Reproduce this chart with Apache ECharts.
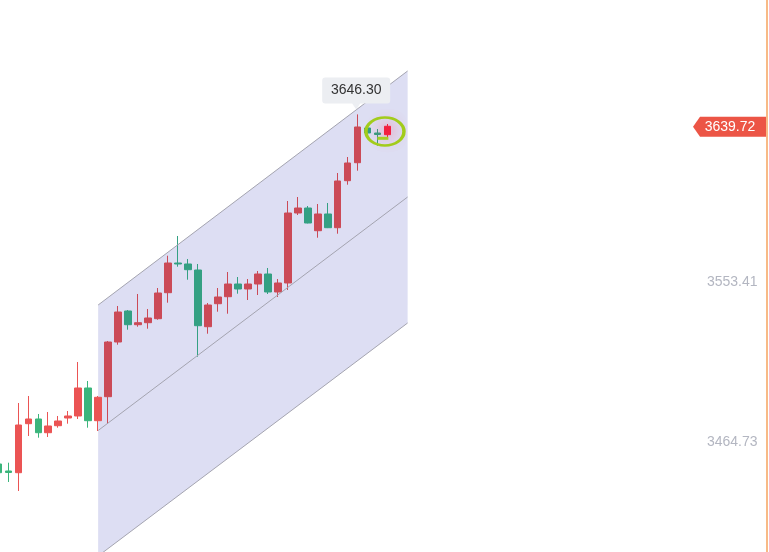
<!DOCTYPE html>
<html>
<head>
<meta charset="utf-8">
<script src="https://cdn.jsdelivr.net/npm/echarts@6/dist/echarts.min.js"></script>
<style>
html,body{margin:0;padding:0;background:#fff;}
#chart{width:769px;height:552px;}
</style>
</head>
<body>
<div id="chart"></div>
<script>
// ---- data ----
const categoryCount = 77;
const categories = Array.from({length: categoryCount}, (_, i) => String(i + 1));
const opens  = [3452.54,3448.66,3447.71,3474.87,3477.48,3469.88,3473.76,3478.03,3479.14,3494.66,
                3476.54,3489.84,3520.15,3537.34,3529.74,3530.85,3533.07,3547.48,3563.94,3563.39,
                3560.06,3528.63,3541.38,3545.26,3552.30,3549.53,3552.30,3557.84,3547.87,3552.86,
                3591.65,3594.42,3581.84,3591.10,3583.51,3609.56,3619.53,3638.76,3635.99,3635.05];
const closes = [3447.71,3447.83,3474.15,3477.48,3469.88,3473.60,3476.37,3479.14,3494.66,3476.54,
                3489.51,3520.15,3536.78,3529.74,3530.85,3533.46,3547.31,3563.94,3563.39,3560.23,
                3529.19,3540.66,3545.10,3552.30,3549.53,3552.30,3557.84,3547.87,3552.86,3591.65,
                3594.42,3586.11,3591.10,3583.51,3609.39,3619.37,3639.32,3635.99,3635.16,3639.72];
const lows   = [3446.99,3442.56,3437.57,3468.06,3467.11,3467.50,3472.66,3474.87,3477.48,3472.66,
                3470.83,3474.71,3518.66,3526.97,3528.63,3527.53,3532.50,3541.94,3561.89,3554.68,
                3512.01,3524.76,3536.95,3535.84,3546.93,3543.43,3546.20,3546.76,3545.10,3548.98,
                3590.54,3585.90,3577.96,3583.30,3580.18,3607.34,3615.10,3633.94,3628.95,3633.61];
const highs  = [3453.64,3453.26,3486.35,3490.23,3480.25,3481.36,3479.14,3481.91,3509.07,3498.54,
                3490.23,3520.71,3540.11,3537.89,3546.76,3538.45,3550.08,3567.99,3578.91,3566.16,
                3563.39,3541.77,3550.08,3558.95,3556.18,3555.07,3559.51,3561.17,3555.07,3598.30,
                3600.52,3595.53,3596.64,3597.20,3613.82,3622.69,3646.30,3639.00,3638.21,3640.98];
// channel: [startIndex, endIndex], edges at those indexes
const channelX      = [10, 41];
const channelTop    = [3540.66, 3670.36];
const channelMid    = [3471.10, 3600.52];
const channelBottom = [3401.55, 3530.69];
const yTickLabels = [3464.73, 3553.41];
const yMin = 3403.76, yMax = 3709.71;
const lastPrice = 3639.72;
const peakValue = 3646.30;
const peakIndex = 36;
const ringValue = 3636.83;
const markerValue = 3633.05;

// ---- build ----
const UP = '#eb5454', DOWN = '#3bb57c';
const UP_IN = '#cb4a57', DOWN_IN = '#34a083';
const n = opens.length;
const mainData = [];
for (let i = 0; i < n - 1; i++) {
  const item = {value: [opens[i], closes[i], lows[i], highs[i]]};
  if (i > channelX[0] && i <= channelX[1]) {
    const c = closes[i] < opens[i] ? DOWN_IN : UP_IN;
    item.itemStyle = {color: c, color0: c, borderColor: c, borderColor0: c};
  }
  mainData.push(item);
}
const lastData = [];
for (let i = 0; i < n - 1; i++) lastData.push('-');
lastData.push([opens[n-1], closes[n-1], lows[n-1], highs[n-1]]);
const channelRow = [[channelX[0], channelX[1], channelTop[0], channelTop[1], channelMid[0], channelMid[1], channelBottom[0], channelBottom[1]]];

function channelPoints(api) {
  const x0 = api.value(0), x1 = api.value(1);
  return {
    t0: api.coord([x0, api.value(2)]), t1: api.coord([x1, api.value(3)]),
    m0: api.coord([x0, api.value(4)]), m1: api.coord([x1, api.value(5)]),
    b0: api.coord([x0, api.value(6)]), b1: api.coord([x1, api.value(7)])
  };
}

const FONT = 'Liberation Sans, Arial, sans-serif';
const chart = echarts.init(document.getElementById('chart'), null, {renderer: 'canvas'});
const option = {
  animation: false,
  backgroundColor: '#ffffff',
  grid: {left: -6.67, right: 7, top: 0, bottom: 0, containLabel: false, outerBoundsMode: 'none'},
  xAxis: {type: 'category', data: categories, boundaryGap: true, show: false},
  yAxis: {
    type: 'value', position: 'right', offset: 4.5, min: yMin, max: yMax, scale: true,
    axisLine: {show: true, lineStyle: {color: '#f6a35e', width: 1.5}},
    axisTick: {show: false},
    splitLine: {show: false},
    axisLabel: {
      inside: true, margin: 9, color: '#b3b6c1', fontSize: 14, fontFamily: FONT,
      customValues: yTickLabels,
      formatter: v => v.toFixed(2)
    }
  },
  series: [
    {
      type: 'custom', z: 1, silent: true, clip: false,
      data: channelRow,
      dimensions: ['x0','x1','t0','t1','m0','m1','b0','b1'],
      encode: {x: [0, 1], y: [2, 3, 6, 7]},
      renderItem: function (params, api) {
        const p = channelPoints(api);
        return {type: 'polygon', shape: {points: [p.t0, p.t1, p.b1, p.b0]}, style: {fill: '#dddef3'}};
      }
    },
    {
      type: 'candlestick', z: 2, barWidth: 7,
      data: mainData,
      itemStyle: {color: UP, color0: DOWN, borderColor: UP, borderColor0: DOWN, borderWidth: 1}
    },
    {
      type: 'custom', z: 3, silent: true, clip: false,
      data: channelRow,
      dimensions: ['x0','x1','t0','t1','m0','m1','b0','b1'],
      encode: {x: [0, 1], y: [2, 3, 6, 7]},
      renderItem: function (params, api) {
        const p = channelPoints(api);
        const s = {stroke: '#a4a4b0', lineWidth: 1, fill: null};
        return {
          type: 'group',
          children: [
            {type: 'line', shape: {x1: p.t0[0], y1: p.t0[1], x2: p.t1[0], y2: p.t1[1]}, style: s},
            {type: 'line', shape: {x1: p.m0[0], y1: p.m0[1], x2: p.m1[0], y2: p.m1[1]}, style: s},
            {type: 'line', shape: {x1: p.b0[0], y1: p.b0[1], x2: p.b1[0], y2: p.b1[1]}, style: s}
          ]
        };
      }
    },
    {
      type: 'candlestick', z: 4, barWidth: 7,
      data: lastData,
      itemStyle: {color: '#f2203f', color0: '#f2203f', borderColor: '#f2203f', borderColor0: '#f2203f',
                  shadowBlur: 16, shadowColor: 'rgba(255,40,80,0.75)'},
      markPoint: {
        silent: true,
        z: 5,
        data: [
          {
            coord: [peakIndex, peakValue], value: peakValue,
            symbol: 'path://M3,0 H65 Q68,0 68,3 V23 Q68,26 65,26 H38 L34,32 L30,26 H3 Q0,26 0,23 V3 Q0,0 3,0 Z',
            symbolSize: [68, 32], symbolOffset: [-1.5, -21],
            itemStyle: {color: '#eceef2'},
            label: {show: true, position: 'inside', offset: [0, -3], color: '#333', fontSize: 14,
                    fontFamily: FONT, formatter: p => p.value.toFixed(2)}
          },
          {
            coord: [categoryCount - 1, lastPrice], value: lastPrice,
            symbol: 'path://M0,10 L7,0 H73 V20 H7 Z',
            symbolSize: [73, 20], symbolOffset: [-27.5, 0.5],
            itemStyle: {color: '#ec5546'},
            label: {show: true, position: 'inside', offset: [0.5, 0], color: '#fff', fontSize: 14,
                    fontFamily: FONT, formatter: p => p.value.toFixed(2)}
          },
          {
            coord: [n - 2, markerValue], value: markerValue,
            symbol: 'rect', symbolSize: [11, 3], symbolOffset: [5.2, 0],
            itemStyle: {color: '#a6cf22'}, label: {show: false}
          },
          {
            coord: [n - 1, ringValue], value: ringValue,
            symbol: 'path://M0,14 A19,14 0 1,1 38,14 A19,14 0 1,1 0,14 Z',
            symbolSize: [38, 28], symbolOffset: [-2.7, 0],
            itemStyle: {color: 'rgba(0,0,0,0)', borderColor: '#a2cc1c', borderWidth: 3},
            label: {show: false}
          }
        ]
      }
    }
  ]
};
chart.setOption(option);
</script>
</body>
</html>
